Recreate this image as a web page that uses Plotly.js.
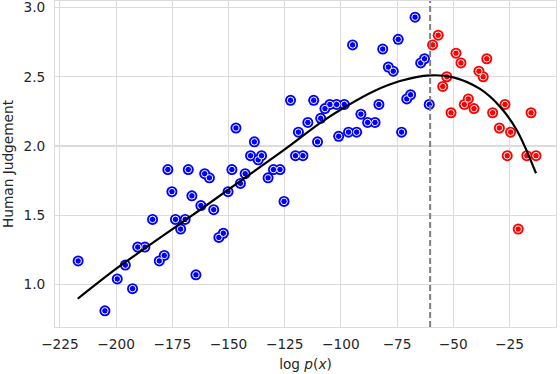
<!DOCTYPE html>
<html>
<head>
<meta charset="utf-8">
<script src="https://cdn.plot.ly/plotly-3.0.1.min.js"></script>
<style>
  html, body { margin: 0; padding: 0; background: #fff; }
  #chart { width: 560px; height: 374px; }
</style>
</head>
<body>
<div id="chart"></div>
<script>
// blue points: left of the peak
const blueX = [
  -216.9, -205.0, -199.5, -195.9, -192.7, -190.4, -187.2, -183.8, -180.8, -178.6,
  -177.0, -175.2, -173.6, -171.3, -169.3, -167.9, -166.3, -164.5, -162.3, -160.6,
  -158.5, -156.6, -154.3, -152.3, -150.2, -148.5, -146.7, -144.7, -142.6, -140.2,
  -138.5, -136.8, -135.3, -132.4, -130.0, -127.1, -125.3, -122.4, -120.2, -118.9,
  -116.9, -114.7, -112.1, -110.4, -109.0, -107.1, -104.9, -101.9, -98.5, -101.0,
  -96.6, -94.8, -93.0, -91.1, -88.1, -84.8, -83.1, -81.4, -78.9, -76.7,
  -74.5, -73.0, -70.7, -69.0, -67.0, -64.5, -62.8, -60.7
];
const blueY = [
  1.17, 0.81, 1.04, 1.14, 0.97, 1.27, 1.27, 1.47, 1.17, 1.21,
  1.83, 1.67, 1.47, 1.40, 1.47, 1.83, 1.64, 1.07, 1.57, 1.80,
  1.77, 1.54, 1.34, 1.37, 1.67, 1.83, 2.13, 1.73, 1.80, 1.93,
  2.03, 1.90, 1.93, 1.77, 1.83, 1.83, 1.60, 2.33, 1.93, 2.10,
  1.93, 2.17, 2.33, 2.03, 2.20, 2.27, 2.30, 2.30, 2.30, 2.07,
  2.10, 2.73, 2.10, 2.23, 2.17, 2.17, 2.30, 2.70, 2.57, 2.54,
  2.77, 2.10, 2.34, 2.37, 2.93, 2.60, 2.63, 2.30
];

// red points: right of the peak
const redX = [
  -59.2, -56.7, -54.7, -52.9, -51.0, -48.8, -46.6, -45.1, -43.3, -40.8,
  -38.6, -36.7, -35.1, -32.5, -29.5, -27.0, -26.0, -24.5, -21.1, -17.3,
  -15.4, -13.2
];
const redY = [
  2.73, 2.80, 2.43, 2.50, 2.24, 2.67, 2.60, 2.30, 2.34, 2.27,
  2.54, 2.50, 2.63, 2.24, 2.13, 2.30, 1.93, 2.10, 1.40, 1.93,
  2.24, 1.93
];

// fitted curve
const fitX = [-217.1, -199.8, -187.9, -174.6, -161.2, -145.7, -125.6, -107.9, -97.4,
  -85.6, -73.7, -60.4, -50.0, -38.1, -29.2, -21.8, -13.2];
const fitY = [0.897, 1.116, 1.253, 1.404, 1.556, 1.736, 1.968, 2.181, 2.289,
  2.394, 2.469, 2.510, 2.496, 2.412, 2.284, 2.116, 1.803];

const peakX = -60.3;

const fontFam = 'DejaVu Sans, sans-serif';
const fontSize = 13.7;

function pointTraces(xs, ys, color) {
  return [
    {
      x: xs, y: ys, type: 'scatter', mode: 'markers',
      marker: { color: color, size: 11, line: { width: 0 } },
      hoverinfo: 'skip',
    },
    {
      x: xs, y: ys, type: 'scatter', mode: 'markers',
      marker: { color: color, size: 6.5, line: { color: '#ffffff', width: 1 } },
      hoverinfo: 'skip',
    },
  ];
}

const data = [
  ...pointTraces(blueX, blueY, '#0000ff'),
  ...pointTraces(redX, redY, '#ff0000'),
  {
    x: fitX, y: fitY, type: 'scatter', mode: 'lines',
    line: { color: '#000000', width: 2.2, shape: 'spline', smoothing: 1 },
    hoverinfo: 'skip',
  },
];

const axisCommon = {
  showgrid: true,
  gridcolor: '#dcdcdc',
  gridwidth: 1.1,
  zeroline: false,
  showline: true,
  linecolor: '#dcdcdc',
  linewidth: 1,
  mirror: true,
  ticks: '',
  ticklabeloverflow: 'allow',
  tickfont: { family: fontFam, size: fontSize, color: '#262626' },
};

const layout = {
  width: 560,
  height: 374,
  margin: { l: 55, r: 4, t: 1, b: 47 },
  paper_bgcolor: '#ffffff',
  plot_bgcolor: '#ffffff',
  showlegend: false,
  font: { family: fontFam, color: '#262626' },
  xaxis: {
    ...axisCommon,
    range: [-227.2, -4.3],
    tickvals: [-225, -200, -175, -150, -125, -100, -75, -50, -25],
    ticktext: ['\u2212225', '\u2212200', '\u2212175', '\u2212150', '\u2212125', '\u2212100', '\u221275', '\u221250', '\u221225'],
    ticklabelstandoff: 5,
    title: { text: 'log <i>p</i>(<i>x</i>)', font: { family: fontFam, size: fontSize, color: '#262626' }, standoff: 7 },
  },
  yaxis: {
    ...axisCommon,
    range: [0.693, 3.047],
    tickvals: [1.0, 1.5, 2.0, 2.5, 3.0],
    ticktext: ['1.0', '1.5', '2.0', '2.5', '3.0'],
    ticklabelstandoff: 6,
    title: { text: 'Human Judgement', font: { family: fontFam, size: fontSize, color: '#262626' }, standoff: 8 },
  },
  shapes: [
    {
      type: 'line', xref: 'x', yref: 'paper',
      x0: peakX, x1: peakX, y0: 0, y1: 1,
      line: { color: '#7f7f7f', width: 2, dash: '6px,3px' },
      layer: 'above',
    },
  ],
};

Plotly.newPlot('chart', data, layout, { displayModeBar: false, staticPlot: true });
</script>
</body>
</html>
